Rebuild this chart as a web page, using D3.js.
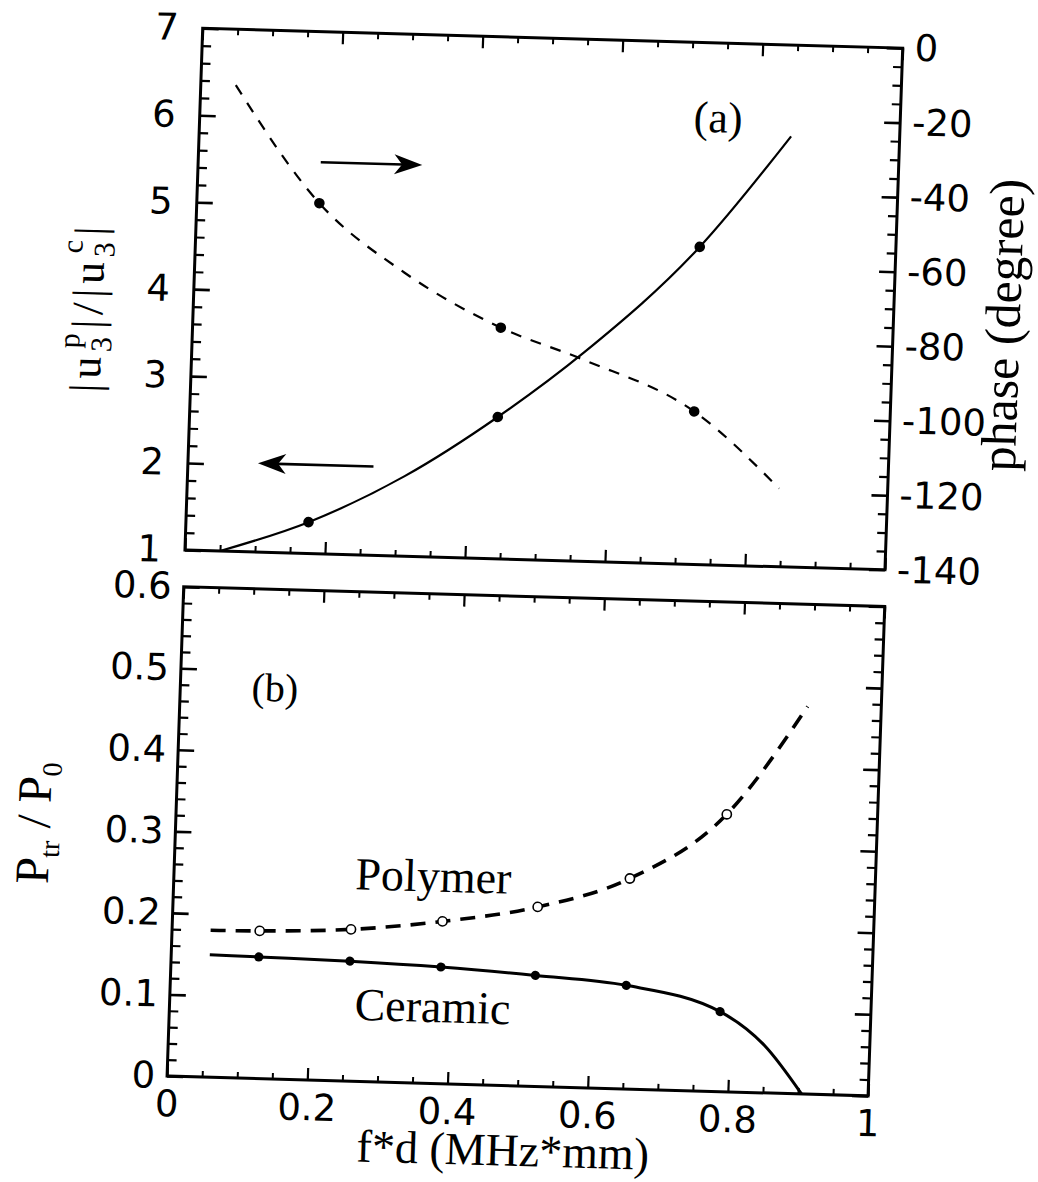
<!DOCTYPE html>
<html><head><meta charset="utf-8">
<script src="https://cdn.jsdelivr.net/npm/d3@7"></script>
<style>body{margin:0;background:#fff}</style>
</head><body>
<script>
// ---------------- data ----------------
const xMajorTicks = [0, 0.2, 0.4, 0.6, 0.8, 1];
const xTickLabels = ["0", "0.2", "0.4", "0.6", "0.8", "1"];
const ratioTicks = [1, 2, 3, 4, 5, 6, 7];
const phaseTicks = [0, -20, -40, -60, -80, -100, -120, -140];
const powerTicks = [0, 0.1, 0.2, 0.3, 0.4, 0.5, 0.6];
const powerTickLabels = ["0", "0.1", "0.2", "0.3", "0.4", "0.5", "0.6"];

// panel (a)
const ratioCurveX = [0.05, 0.175, 0.31, 0.44, 0.56, 0.72, 0.845];
const ratioCurveY = [1.0, 1.36, 1.92, 2.63, 3.4, 4.65, 5.95];
const phaseCurveX = [0.05, 0.175, 0.30, 0.44, 0.56, 0.72, 0.845];
const phaseCurveY = [-15, -46, -64, -78, -86, -99, -119];
const ratioPointX = [0.175, 0.44, 0.72];
const ratioPointY = [1.36, 2.63, 4.65];
const phasePointX = [0.175, 0.44, 0.72];
const phasePointY = [-46, -78, -99];

// panel (b)
const fdPoints = [0.125, 0.255, 0.385, 0.52, 0.65, 0.785];
const polymerPoints = [0.181, 0.186, 0.199, 0.22, 0.258, 0.34];
const ceramicPoints = [0.149, 0.147, 0.143, 0.136, 0.127, 0.098];
const polymerCurveX = [0.055, 0.125, 0.255, 0.385, 0.52, 0.65, 0.785, 0.895];
const polymerCurveY = [0.18, 0.181, 0.186, 0.199, 0.22, 0.258, 0.34, 0.475];
const ceramicCurveX = [0.055, 0.125, 0.255, 0.385, 0.52, 0.65, 0.785, 0.85, 0.905];
const ceramicCurveY = [0.15, 0.149, 0.147, 0.143, 0.136, 0.127, 0.098, 0.058, 0];

// ---------------- layout ----------------
const W = 1038, H = 1182;
const P0 = [202.7, 28.3];
const svg = d3.select("body").append("svg").attr("width", W).attr("height", H);
svg.append("rect").attr("width", W).attr("height", H).attr("fill", "#fff");
// the scanned figure is slightly tilted / sheared
const g = svg.append("g").attr("transform",
  `translate(${P0[0]},${P0[1]}) matrix(1,0.0283,-0.034,1,0,0) translate(${-P0[0]},${-P0[1]})`);

const A = {l: 202.7, t: 28.3, w: 700, h: 521.7};
const B = {l: 202.7, t: 586.7, w: 701, h: 489.3};
const xa = d3.scaleLinear([0, 1], [A.l, A.l + A.w]);
const ya = d3.scaleLinear([1, 7], [A.t + A.h, A.t]);
const yp = d3.scaleLinear([-140, 0], [A.t + A.h, A.t]);
const xb = d3.scaleLinear([0, 1], [B.l, B.l + B.w]);
const yb = d3.scaleLinear([0, 0.6], [B.t + B.h, B.t]);

const SANS = "DejaVu Sans", SERIF = "Liberation Serif";
const TICKFS = 37;

const xMinor = d3.range(0, 21).map(i => i * 0.05).filter((d, i) => i % 4 !== 0);
const ratioMinor = d3.range(0, 31).map(i => 1 + i * 0.2).filter((d, i) => i % 5 !== 0);
const phaseMinor = d3.range(0, 29).map(i => -140 + i * 5).filter((d, i) => i % 4 !== 0);
const powerMinor = d3.range(0, 31).map(i => i * 0.02).filter((d, i) => i % 5 !== 0);

function axis(gen, tr, sw) {
  const s = g.append("g").attr("transform", tr).call(gen);
  s.select(".domain").remove();
  s.selectAll(".tick line").attr("stroke", "#000").attr("stroke-width", sw);
  s.selectAll("text").attr("font-family", SANS).attr("font-size", TICKFS).attr("fill", "#000");
  return s;
}

// ----- panel (a) axes -----
axis(d3.axisLeft(ya).tickValues(ratioTicks).tickSize(-16).tickPadding(24).tickFormat(d => String(d)), `translate(${A.l},0)`, 2.6);
axis(d3.axisLeft(ya).tickValues(ratioMinor).tickSize(-9).tickFormat(""), `translate(${A.l},0)`, 2.2);
axis(d3.axisRight(yp).tickValues(phaseTicks).tickSize(-16).tickPadding(12).tickFormat(d => String(d)), `translate(${A.l + A.w},0)`, 2.6);
axis(d3.axisRight(yp).tickValues(phaseMinor).tickSize(-9).tickFormat(""), `translate(${A.l + A.w},0)`, 2.2);
axis(d3.axisBottom(xa).tickValues(xMajorTicks).tickSize(-12).tickFormat(""), `translate(0,${A.t + A.h})`, 2.2);
axis(d3.axisBottom(xa).tickValues(xMinor).tickSize(-6).tickFormat(""), `translate(0,${A.t + A.h})`, 2);
axis(d3.axisTop(xa).tickValues(xMajorTicks).tickSize(-12).tickFormat(""), `translate(0,${A.t})`, 2.2);
axis(d3.axisTop(xa).tickValues(xMinor).tickSize(-6).tickFormat(""), `translate(0,${A.t})`, 2);
g.append("rect").attr("x", A.l).attr("y", A.t).attr("width", A.w).attr("height", A.h)
  .attr("fill", "none").attr("stroke", "#000").attr("stroke-width", 3);

// ----- panel (b) axes -----
axis(d3.axisLeft(yb).tickValues(powerTicks).tickSize(-16).tickPadding(12).tickFormat((d, i) => powerTickLabels[i]), `translate(${B.l},0)`, 2.6);
axis(d3.axisLeft(yb).tickValues(powerMinor).tickSize(-9).tickFormat(""), `translate(${B.l},0)`, 2.2);
axis(d3.axisRight(yb).tickValues(powerTicks).tickSize(-16).tickFormat(""), `translate(${B.l + B.w},0)`, 2.6);
axis(d3.axisRight(yb).tickValues(powerMinor).tickSize(-9).tickFormat(""), `translate(${B.l + B.w},0)`, 2.2);
axis(d3.axisBottom(xb).tickValues(xMajorTicks).tickSize(-12).tickPadding(14).tickFormat((d, i) => xTickLabels[i]), `translate(0,${B.t + B.h})`, 2.2);
axis(d3.axisBottom(xb).tickValues(xMinor).tickSize(-6).tickFormat(""), `translate(0,${B.t + B.h})`, 2);
axis(d3.axisTop(xb).tickValues(xMajorTicks).tickSize(-12).tickFormat(""), `translate(0,${B.t})`, 2.2);
axis(d3.axisTop(xb).tickValues(xMinor).tickSize(-6).tickFormat(""), `translate(0,${B.t})`, 2);
g.append("rect").attr("x", B.l).attr("y", B.t).attr("width", B.w).attr("height", B.h)
  .attr("fill", "none").attr("stroke", "#000").attr("stroke-width", 3);

// ----- panel (a) curves -----
const lineA = d3.line().x(d => xa(d[0])).y(d => ya(d[1])).curve(d3.curveMonotoneX);
const lineP = d3.line().x(d => xa(d[0])).y(d => yp(d[1])).curve(d3.curveMonotoneX);
g.append("path").attr("d", lineA(ratioCurveX.map((x, i) => [x, ratioCurveY[i]])))
  .attr("fill", "none").attr("stroke", "#000").attr("stroke-width", 2.2);
g.append("path").attr("d", lineP(phaseCurveX.map((x, i) => [x, phaseCurveY[i]])))
  .attr("fill", "none").attr("stroke", "#000").attr("stroke-width", 2.2).attr("stroke-dasharray", "11,10");
g.selectAll(".rp").data(ratioPointX).join("circle")
  .attr("cx", d => xa(d)).attr("cy", (d, i) => ya(ratioPointY[i])).attr("r", 5.3).attr("fill", "#000");
g.selectAll(".pp").data(phasePointX).join("circle")
  .attr("cx", d => xa(d)).attr("cy", (d, i) => yp(phasePointY[i])).attr("r", 5.3).attr("fill", "#000");

// arrows
function arrow(x1, x2, yv) {
  const X1 = xa(x1), X2 = xa(x2), Y = ya(yv);
  const dir = Math.sign(X2 - X1), hl = 28, hw = 10;
  g.append("line").attr("x1", X1).attr("x2", X2 - dir * hl * 0.7).attr("y1", Y).attr("y2", Y)
    .attr("stroke", "#000").attr("stroke-width", 2.6);
  g.append("path").attr("d", `M${X2},${Y} L${X2 - dir * hl},${Y - hw} L${X2 - dir * hl * 0.72},${Y} L${X2 - dir * hl},${Y + hw} Z`)
    .attr("fill", "#000");
}
arrow(0.175, 0.32, 5.5);
arrow(0.265, 0.10, 2.02);

g.append("text").attr("x", xa(0.74)).attr("y", ya(6.15)).attr("dy", "0.35em")
  .attr("text-anchor", "middle").attr("font-family", SERIF).attr("font-size", 44).text("(a)");

// ----- panel (b) curves -----
const lineB = d3.line().x(d => xb(d[0])).y(d => yb(d[1])).curve(d3.curveMonotoneX);
g.append("path").attr("d", lineB(ceramicCurveX.map((x, i) => [x, ceramicCurveY[i]])))
  .attr("fill", "none").attr("stroke", "#000").attr("stroke-width", 3);
g.append("path").attr("d", lineB(polymerCurveX.map((x, i) => [x, polymerCurveY[i]])))
  .attr("fill", "none").attr("stroke", "#000").attr("stroke-width", 3.6).attr("stroke-dasharray", "15,10");
g.selectAll(".cp").data(fdPoints).join("circle")
  .attr("cx", d => xb(d)).attr("cy", (d, i) => yb(ceramicPoints[i])).attr("r", 4.6).attr("fill", "#000");
g.selectAll(".op").data(fdPoints).join("circle")
  .attr("cx", d => xb(d)).attr("cy", (d, i) => yb(polymerPoints[i])).attr("r", 4.6)
  .attr("fill", "#fff").attr("stroke", "#000").attr("stroke-width", 1.6);

g.append("text").attr("x", xb(0.135)).attr("y", yb(0.48)).attr("dy", "0.35em")
  .attr("text-anchor", "middle").attr("font-family", SERIF).attr("font-size", 40).text("(b)");
g.append("text").attr("x", xb(0.37)).attr("y", yb(0.255)).attr("dy", "0.35em")
  .attr("text-anchor", "middle").attr("font-family", SERIF).attr("font-size", 46).text("Polymer");
g.append("text").attr("x", xb(0.375)).attr("y", yb(0.095)).attr("dy", "0.35em")
  .attr("text-anchor", "middle").attr("font-family", SERIF).attr("font-size", 46).text("Ceramic");

// ----- axis titles -----
g.append("text").attr("x", B.l + 338).attr("y", B.t + B.h + 80)
  .attr("text-anchor", "middle").attr("font-family", SERIF).attr("font-size", 46).text("f*d (MHz*mm)");

g.append("text").attr("transform", "translate(1029,302) rotate(-90)")
  .attr("text-anchor", "middle").attr("font-family", SERIF).attr("font-size", 50).text("phase (degree)");

const rt = g.append("text").attr("transform", "translate(112,310) rotate(-90)")
  .attr("text-anchor", "middle").attr("font-family", SERIF).attr("font-size", 44).attr("letter-spacing", 5);
rt.append("tspan").text("|u");
rt.append("tspan").attr("font-size", 30).attr("dy", 10).text("3");
rt.append("tspan").attr("font-size", 30).attr("dx", -17).attr("dy", -32).text("p");
rt.append("tspan").attr("dy", 22).text("|/|u");
rt.append("tspan").attr("font-size", 30).attr("dy", 10).text("3");
rt.append("tspan").attr("font-size", 30).attr("dx", -17).attr("dy", -32).text("c");
rt.append("tspan").attr("dy", 22).text("|");

const pt = g.append("text").attr("transform", "translate(77,827) rotate(-90)")
  .attr("text-anchor", "middle").attr("font-family", SERIF).attr("font-size", 48);
pt.append("tspan").text("P");
pt.append("tspan").attr("font-size", 28).attr("dy", 10).text("tr");
pt.append("tspan").attr("dy", -10).text(" / P");
pt.append("tspan").attr("font-size", 28).attr("dy", 10).text("0");
</script>
</body></html>
